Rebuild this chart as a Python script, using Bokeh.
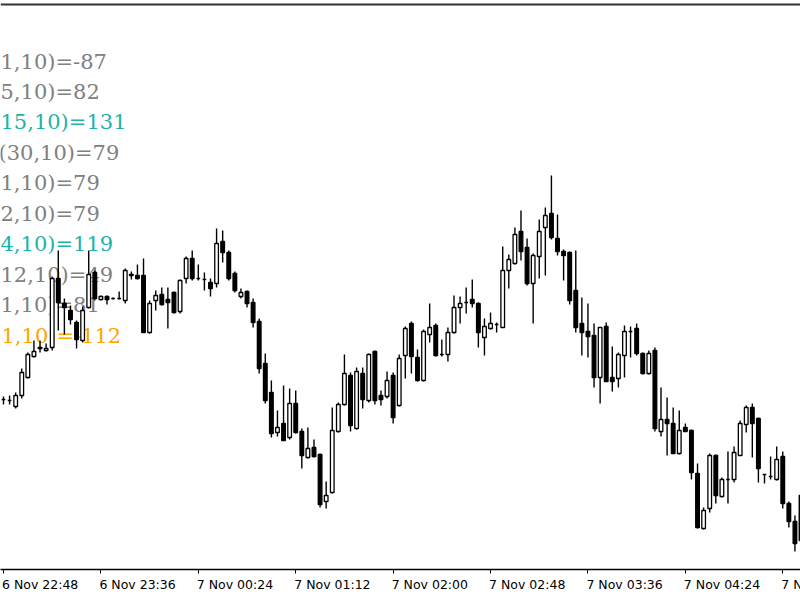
from bokeh.plotting import figure
from bokeh.layouts import column
from bokeh.models import Range1d, FixedTicker, Span, ColumnDataSource
from bokeh.core.properties import value
from bokeh.embed import file_html
from bokeh.resources import INLINE

# ---------------- data (3-minute bars from 6 Nov 22:48, prices in points) ----------------
BAR_MINUTES = 3

opens = [
    201, 200, 194, 205, 223, 244, 252, 250, 253, 322,
    297, 290, 278, 260, 293, 328, 301, 304, 302, 302,
    300, 326, 325, 325, 268, 300, 306, 301, 308, 289,
    322, 342, 322, 321, 318, 317, 359, 348, 327, 304,
    309, 298, 279, 237, 208, 168, 177, 163, 197, 169,
    143, 153, 146, 99, 108, 169, 196, 225, 172, 227,
    200, 249, 205, 204, 225, 195, 245, 277, 243, 220,
    266, 275, 246, 246, 268, 293, 298, 301, 297, 263,
    272, 276, 273, 330, 337, 369, 353, 317, 344, 373,
    387, 362, 349, 348, 310, 277, 269, 265, 223, 274,
    223, 222, 245, 269, 272, 247, 227, 250, 169, 181,
    177, 147, 173, 170, 127, 72, 92, 145, 104, 121,
    121, 145, 176, 193, 182, 126, 124, 121, 144, 97,
    79, 60,
]
highs = [
    204, 205, 208, 232, 248, 260, 260, 257, 324, 350,
    302, 295, 280, 294, 350, 330, 305, 305, 303, 309,
    332, 329, 336, 342, 300, 310, 313, 313, 309, 321,
    344, 350, 336, 328, 322, 372, 370, 350, 329, 312,
    310, 302, 282, 247, 220, 190, 215, 212, 210, 172,
    173, 161, 147, 119, 193, 198, 246, 228, 233, 233,
    247, 250, 210, 229, 228, 246, 274, 279, 251, 271,
    297, 277, 261, 273, 305, 304, 313, 321, 298, 282,
    288, 278, 354, 346, 373, 390, 362, 347, 381, 393,
    425, 386, 351, 349, 350, 303, 297, 277, 273, 278,
    254, 248, 275, 274, 277, 248, 250, 253, 213, 203,
    193, 190, 177, 171, 137, 93, 147, 146, 123, 149,
    154, 180, 195, 197, 183, 126, 144, 154, 149, 99,
    85, 130,
]
lows = [
    196, 196, 192, 202, 222, 243, 248, 249, 250, 270,
    266, 276, 252, 258, 292, 300, 300, 296, 301, 301,
    297, 321, 321, 268, 267, 290, 295, 272, 287, 287,
    317, 320, 320, 310, 304, 313, 338, 320, 308, 302,
    293, 273, 227, 197, 163, 164, 160, 161, 167, 132,
    142, 143, 93, 92, 107, 168, 195, 169, 171, 192,
    198, 196, 195, 202, 177, 194, 222, 227, 219, 219,
    258, 244, 244, 239, 267, 277, 287, 293, 253, 245,
    271, 268, 273, 312, 336, 340, 315, 277, 322, 325,
    361, 345, 320, 296, 268, 245, 243, 213, 197, 219,
    209, 213, 223, 243, 245, 226, 226, 169, 164, 145,
    147, 146, 169, 121, 72, 71, 88, 97, 103, 97,
    118, 145, 168, 143, 118, 117, 121, 120, 92, 73,
    49, 55,
]
closes = [
    201, 200, 205, 228, 246, 249, 253, 252, 322, 298,
    293, 281, 261, 290, 326, 302, 304, 301, 302, 302,
    330, 325, 322, 268, 297, 305, 296, 298, 288, 320,
    342, 322, 322, 321, 312, 357, 348, 322, 310, 308,
    297, 278, 232, 200, 167, 173, 160, 197, 168, 145,
    152, 144, 96, 105, 170, 196, 227, 175, 229, 201,
    246, 200, 201, 220, 183, 242, 272, 244, 220, 269,
    273, 245, 246, 268, 293, 297, 298, 297, 268, 274,
    277, 276, 330, 341, 366, 349, 317, 345, 369, 385,
    363, 349, 345, 300, 273, 268, 264, 223, 273, 219,
    219, 246, 269, 269, 247, 227, 247, 172, 181, 177,
    147, 170, 169, 128, 73, 90, 145, 105, 121, 121,
    148, 177, 193, 177, 132, 126, 124, 141, 97, 79,
    57, 105,
]

tick_minutes = [0, 48, 96, 144, 192, 240, 288, 336, 384]
tick_labels = ["6 Nov 22:48", "6 Nov 23:36", "7 Nov 00:24", "7 Nov 01:12",
               "7 Nov 02:00", "7 Nov 02:48", "7 Nov 03:36", "7 Nov 04:24",
               "7 Nov 05:12"]

ind_texts = ["1,10)=-87", "5,10)=82", "15,10)=131", "(30,10)=79", "1,10)=79",
             "2,10)=79", "4,10)=119", "12,10)=49", "1,10)=81", "1,10)=-112"]
ind_colors = ["#808080", "#808080", "#20b2aa", "#808080", "#808080",
              "#808080", "#20b2aa", "#808080", "#808080", "#ffa500"]

# ---------------- layout constants ----------------
W = 800
FRAME_H = 569
PX_PER_BAR = 6.088
FIRST_BAR_PX = 3.0
px_per_min = PX_PER_BAR / BAR_MINUTES
x_start = -FIRST_BAR_PX / px_per_min
x_end = x_start + W / px_per_min
Y_TOP = 600
Y_BOT = Y_TOP - FRAME_H


def px_x(px):
    return x_start + px / px_per_min


def px_y(py):
    return Y_TOP - py


n = len(opens)
times = [BAR_MINUTES * i for i in range(n)]
up = [c >= o for o, c in zip(opens, closes)]
src = ColumnDataSource(dict(
    t=times, o=opens, h=highs, l=lows, c=closes,
    top=[max(o, c) for o, c in zip(opens, closes)],
    bot=[min(o, c) for o, c in zip(opens, closes)],
    fill=["white" if u else "black" for u in up],
))

xr = Range1d(x_start, x_end)
p = figure(width=W, height=FRAME_H + 6, x_range=xr, y_range=Range1d(Y_BOT, Y_TOP),
           output_backend="svg", toolbar_location=None, y_axis_location=None,
           min_border_left=0, min_border_right=0, min_border_top=0, min_border_bottom=6,
           outline_line_color=None, background_fill_color="white",
           border_fill_color="white")
p.grid.visible = False

ax = p.xaxis[0]
ax.ticker = FixedTicker(ticks=tick_minutes)
ax.major_tick_out = 4
ax.major_tick_in = 0
ax.major_tick_line_color = "black"
ax.minor_tick_line_color = None
ax.axis_line_color = "black"
ax.axis_line_width = 1.5
ax.major_label_text_font_size = "1px"
ax.major_label_text_color = None
ax.major_label_standoff = 0

# indicator texts (drawn beneath candles)
TEXT_Y0 = 61.0
TEXT_STEP = 30.45
ind_xpx = [0, 0, 0, -2, 0, 0, 0, 0, 0, 1]
tsrc = ColumnDataSource(dict(
    x=[px_x(v) for v in ind_xpx],
    y=[px_y(TEXT_Y0 + TEXT_STEP * i) for i in range(len(ind_texts))],
    text=ind_texts, color=ind_colors))
p.text(x="x", y="y", text="text", text_color="color", source=tsrc,
       text_font=value("DejaVu Serif"), text_font_size="21px",
       text_baseline="middle", text_align="left")

p.segment(x0="t", y0="l", x1="t", y1="h", source=src, line_color="black", line_width=1.4)
p.vbar(x="t", top="top", bottom="bot", width=1.8, source=src,
       fill_color="fill", line_color="black", line_width=1.3)

p.add_layout(Span(location=px_y(4), dimension="width", line_color="#333333", line_width=2))

# time labels strip (left-aligned at each tick, like the terminal)
LABEL_SHIFT_PX = -1.5
lab = figure(width=W, height=600 - (FRAME_H + 6), x_range=xr, y_range=Range1d(0, 25),
             output_backend="svg", toolbar_location=None, x_axis_location=None,
             y_axis_location=None, min_border_left=0, min_border_right=0,
             min_border_top=0, min_border_bottom=0, outline_line_color=None)
lab.grid.visible = False
lsrc = ColumnDataSource(dict(x=[m + LABEL_SHIFT_PX / px_per_min for m in tick_minutes],
                             y=[23.5] * len(tick_minutes), text=tick_labels))
lab.text(x="x", y="y", text="text", source=lsrc, text_font=value("DejaVu Sans"),
         text_font_size="12.5px", text_baseline="top", text_align="left", text_color="black")

layout = column(p, lab, spacing=0)
open("out.html", "w").write(file_html(layout, INLINE))
